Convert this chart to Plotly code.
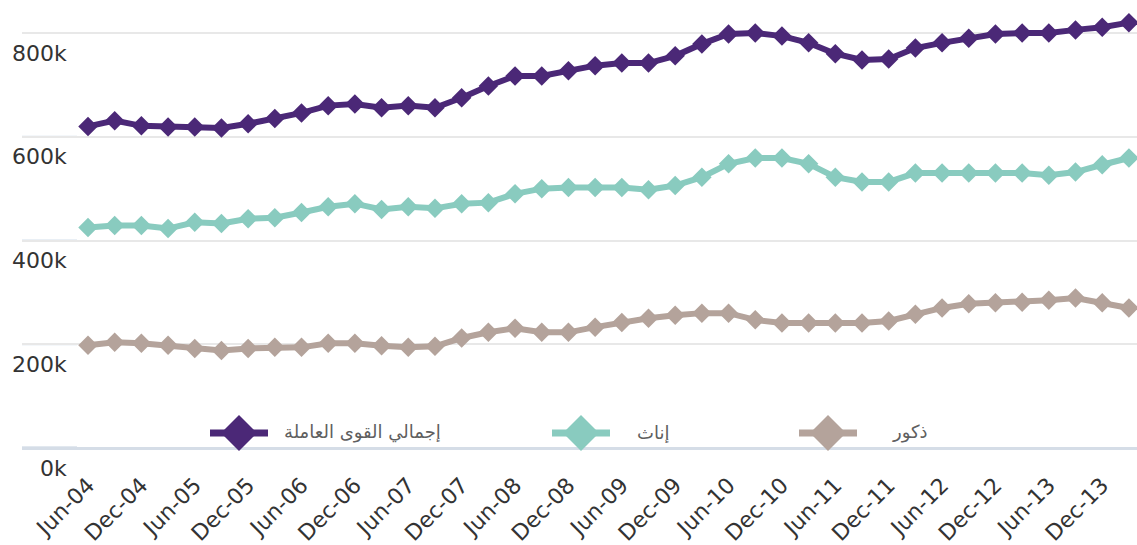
import plotly.graph_objects as go

# ---------------- data ----------------
periods = ["Jun-04", "Sep-04", "Dec-04", "Mar-05", "Jun-05", "Sep-05", "Dec-05", "Mar-06",
           "Jun-06", "Sep-06", "Dec-06", "Mar-07", "Jun-07", "Sep-07", "Dec-07", "Mar-08",
           "Jun-08", "Sep-08", "Dec-08", "Mar-09", "Jun-09", "Sep-09", "Dec-09", "Mar-10",
           "Jun-10", "Sep-10", "Dec-10", "Mar-11", "Jun-11", "Sep-11", "Dec-11", "Mar-12",
           "Jun-12", "Sep-12", "Dec-12", "Mar-13", "Jun-13", "Sep-13", "Dec-13", "Mar-14"]

x_tick_labels = ["Jun-04", "Dec-04", "Jun-05", "Dec-05", "Jun-06", "Dec-06", "Jun-07",
                 "Dec-07", "Jun-08", "Dec-08", "Jun-09", "Dec-09", "Jun-10", "Dec-10",
                 "Jun-11", "Dec-11", "Jun-12", "Dec-12", "Jun-13", "Dec-13"]

total_k = [620, 631, 621, 619, 619, 617, 625, 635, 646, 660, 663, 656,
           660, 656, 675, 698, 717, 717, 727, 737, 742, 742, 756, 779, 798, 800,
           794, 781, 760, 748, 750, 771, 781, 790, 798, 800, 800, 806, 811, 820]

female_k = [425, 429, 429, 423, 435, 433, 442, 444, 454, 465, 471, 460,
            465, 462, 471, 473, 490, 500, 502, 502, 502, 498, 506, 522, 548, 559,
            559, 548, 522, 513, 513, 530, 530, 530, 530, 530, 526, 532, 546, 559]

male_k = [198, 204, 202, 198, 192, 188, 192, 194, 194, 202, 202, 197,
          194, 196, 212, 223, 231, 223, 223, 233, 242, 250, 256, 260, 260, 247,
          241, 241, 241, 241, 245, 258, 270, 278, 280, 281, 285, 289, 280, 270]

series_names = ["إجمالي القوى العاملة", "إناث", "ذكور"]
series_values = [total_k, female_k, male_k]

y_tick_vals = [0, 200000, 400000, 600000, 800000]
y_tick_labels = ["0k", "200k", "400k", "600k", "800k"]

# ---------------- style ----------------
colors = ["#4b2877", "#89cbbf", "#b4a39b"]
W, H = 1137, 545
ML, MR, MT, MB = 22, 0, 0, 90
PW, PH = W - ML - MR, H - MT - MB
TICK_FONT = "DejaVu Sans, Verdana, sans-serif"

fig = go.Figure()
for name, vals, col in zip(series_names, series_values, colors):
    fig.add_trace(go.Scatter(
        x=periods, y=[v * 1000 for v in vals], name=name, mode="lines+markers",
        line=dict(color=col, width=6),
        marker=dict(symbol="diamond", size=15, color=col),
        cliponaxis=False, hoverinfo="skip", showlegend=False))

# y tick labels placed under each grid line
for v, t in zip(y_tick_vals, y_tick_labels):
    fig.add_annotation(x=(69 - ML) / PW, xref="paper", xanchor="right",
                       y=v, yref="y", yanchor="middle", yshift=-20,
                       text=t, showarrow=False,
                       font=dict(family=TICK_FONT, size=22, color="#333"))
    # blue-ish stub at the left of each grid line
    fig.add_shape(type="line", xref="paper", yref="y", x0=0, x1=(77 - ML) / PW,
                  y0=v, y1=v, line=dict(color="#d3dfeb" if v else "#c6d2df", width=2 if v else 3),
                  layer="below")

# custom legend
legend_sym_cx = [239, 581, 828]
legend_text_x = [282, 635, 890]
legend_y_px = 433


def px2paper(px, py):
    return (px - ML) / PW, (H - MB - py) / PH


for cx, tx, name, col in zip(legend_sym_cx, legend_text_x, series_names, colors):
    x0, y0 = px2paper(cx - 29, legend_y_px)
    x1, _ = px2paper(cx + 29, legend_y_px)
    fig.add_shape(type="line", xref="paper", yref="paper", x0=x0, x1=x1, y0=y0, y1=y0,
                  line=dict(color=col, width=7))
    pts = [px2paper(cx - 18, legend_y_px), px2paper(cx, legend_y_px - 18),
           px2paper(cx + 18, legend_y_px), px2paper(cx, legend_y_px + 18)]
    path = "M " + " L ".join(f"{a:.5f},{b:.5f}" for a, b in pts) + " Z"
    fig.add_shape(type="path", xref="paper", yref="paper", path=path,
                  fillcolor=col, line=dict(width=0))
    tx0, ty0 = px2paper(tx, legend_y_px - 1)
    fig.add_annotation(x=tx0, y=ty0, xref="paper", yref="paper", xanchor="left",
                       yanchor="middle", text=name, showarrow=False,
                       font=dict(family="DejaVu Sans, sans-serif", size=18, color="#5f5f5f"))

ppu = 26.69  # px per quarter
x0_px = 88 - ML
fig.update_layout(
    width=W, height=H, margin=dict(l=ML, r=MR, t=MT, b=MB),
    paper_bgcolor="white", plot_bgcolor="white", hovermode=False,
    xaxis=dict(type="category", categoryorder="array", categoryarray=periods,
               range=[-x0_px / ppu, -x0_px / ppu + PW / ppu],
               tickvals=x_tick_labels, ticktext=x_tick_labels, tickangle=-45,
               showgrid=False, zeroline=False, showline=False, ticks="",
               ticklabelstandoff=12, automargin=False,
               tickfont=dict(family=TICK_FONT, size=22, color="#333")),
    yaxis=dict(range=[-7 / 103.75 * 200000, 448 / 103.75 * 200000],
               tickvals=y_tick_vals, showticklabels=False,
               showgrid=True, gridcolor="#e8e8e8", gridwidth=2,
               zeroline=True, zerolinecolor="#d5dde7", zerolinewidth=3,
               showline=False, ticks=""),
)

fig.write_html("out.html", config={"displayModeBar": False},
               post_script="document.body.style.margin='0px';")
